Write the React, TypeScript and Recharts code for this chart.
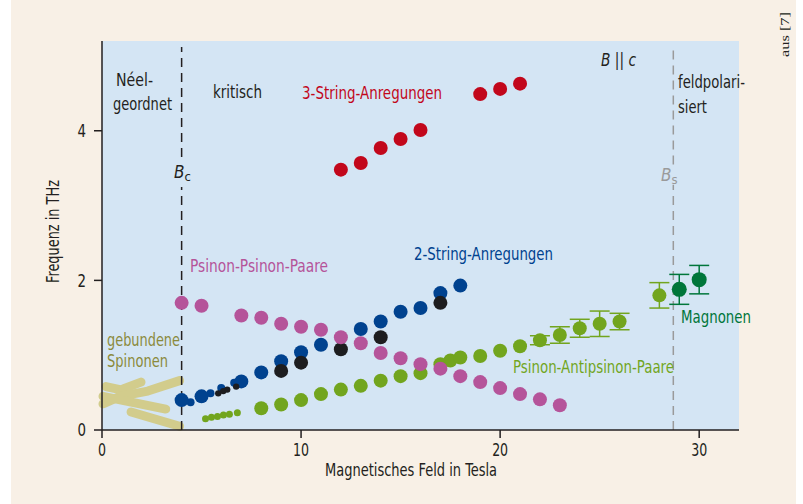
import React from 'react'
import {
  ComposedChart, Scatter, Line, XAxis, YAxis, CartesianGrid,
  ReferenceLine, ErrorBar,
} from 'recharts'

// field in tesla (x) and frequency in THz (y) per series
const THREE_STRING_B = [12, 13, 14, 15, 16, 19, 20, 21]
const THREE_STRING_F = [3.48, 3.57, 3.77, 3.89, 4.01, 4.49, 4.56, 4.63]

const TWO_STRING_B = [4, 5, 7, 8, 9, 10, 11, 13, 14, 15, 16, 17, 18]
const TWO_STRING_F = [0.4, 0.45, 0.65, 0.77, 0.92, 1.04, 1.14, 1.35, 1.45, 1.58, 1.63, 1.83, 1.93]
const TWO_STRING_SMALL_B = [4.45, 5.45, 5.99, 6.64]
const TWO_STRING_SMALL_F = [0.37, 0.49, 0.56, 0.63]

const BLACK_B = [9, 10, 12, 14, 17]
const BLACK_F = [0.79, 0.9, 1.08, 1.24, 1.7]
const BLACK_SMALL_B = [5.84, 6.09, 6.29, 6.74]
const BLACK_SMALL_F = [0.49, 0.52, 0.54, 0.58]

const PSINON_B = [4, 5, 7, 8, 9, 10, 11, 12, 13, 14, 15, 16, 17, 18, 19, 20, 21, 22, 23]
const PSINON_F = [1.7, 1.66, 1.53, 1.5, 1.42, 1.38, 1.34, 1.24, 1.16, 1.03, 0.96, 0.88, 0.82, 0.72, 0.64, 0.56, 0.48, 0.41, 0.33]

const ANTI_B = [8, 9, 10, 11, 12, 13, 14, 15, 16, 17, 17.5, 18, 19, 20, 21]
const ANTI_F = [0.29, 0.34, 0.4, 0.48, 0.54, 0.59, 0.66, 0.72, 0.76, 0.88, 0.93, 0.97, 0.99, 1.06, 1.12]
const ANTI_ERR_B = [22, 23, 24, 25, 26, 28]
const ANTI_ERR_F = [1.2, 1.27, 1.36, 1.42, 1.45, 1.8]
const ANTI_ERR = [0.06, 0.11, 0.12, 0.17, 0.11, 0.17]
const ANTI_SMALL_B = [5.2, 5.5, 5.8, 6.1, 6.4, 6.8]
const ANTI_SMALL_F = [0.15, 0.17, 0.18, 0.2, 0.21, 0.23]

const MAGNON_B = [29, 30]
const MAGNON_F = [1.88, 2.01]
const MAGNON_ERR = [0.2, 0.19]

// bound spinon bands (thick strokes)
const BAND1_B = [0.2, 0.9]
const BAND1_F = [0.58, 0.54]
const BAND2_B = [1.06, 1.96]
const BAND2_F = [0.55, 0.64]
const BAND3_B = [0.05, 0.9, 2.3, 3.9]
const BAND3_F = [0.35, 0.45, 0.52, 0.66]
const BAND4_B = [0.05, 3.2]
const BAND4_F = [0.45, 0.28]
const BAND5_B = [1.46, 3.9]
const BAND5_F = [0.24, 0.05]

const X_TICKS = [0, 10, 20, 30]
const Y_TICKS = [0, 2, 4]

const FONT = "'Liberation Sans Narrow', 'DejaVu Sans Condensed', sans-serif"
const INK = '#231f20'

const pts = (xs: number[], ys: number[], errs?: number[]) =>
  xs.map((x, i) => ({ x, y: ys[i], err: errs ? errs[i] : 0 }))

const dot = (fill: string, r: number) => (p: any) => (
  <circle cx={p.cx} cy={p.cy} r={r} fill={fill} />
)

const C = {
  red: '#c2071b',
  blue: '#00428f',
  black: '#1d1d1f',
  pink: '#b5549a',
  green: '#72a51e',
  dgreen: '#00763a',
  khaki: '#d2cc8c',
  olive: '#8b8a3c',
}

const bands = [
  pts(BAND1_B, BAND1_F), pts(BAND2_B, BAND2_F), pts(BAND3_B, BAND3_F),
  pts(BAND4_B, BAND4_F), pts(BAND5_B, BAND5_F),
]

const XTick = (p: any) => {
  const s = String(p.payload.value)
  return (
    <text x={p.x} y={p.y} dy="0.71em" textAnchor="middle" fill={INK} fontSize={17} fontFamily={FONT}
      textLength={s.length * 8} lengthAdjust="spacingAndGlyphs">{s}</text>
  )
}

const YTick = (p: any) => {
  const s = String(p.payload.value)
  return (
    <text x={p.x} y={p.y} dy="0.36em" textAnchor="end" fill={INK} fontSize={18} fontFamily={FONT}
      textLength={s.length * 8.5} lengthAdjust="spacingAndGlyphs">{s}</text>
  )
}

const Label = ({ x, y, w, fill = INK, children, ...rest }: any) => (
  <text x={x} y={y} fill={fill} textLength={w} lengthAdjust="spacingAndGlyphs" {...rest}>{children}</text>
)

export default function App() {
  return (
    <div style={{ position: 'fixed', left: 0, top: 0, width: 803, height: 504, background: '#fff' }}>
      <div style={{ position: 'absolute', left: 11, top: 0, width: 785, height: 504, background: '#f8f0e6' }} />
      <div style={{ position: 'absolute', left: 0, top: 0 }}>
        <ComposedChart width={803} height={504} margin={{ top: 41, right: 64, bottom: 44, left: 42 }}>
          <CartesianGrid horizontal={false} vertical={false} fill="#d4e5f4" />
          <XAxis
            type="number" dataKey="x" domain={[0, 32]} ticks={X_TICKS} height={30}
            tick={<XTick />} tickSize={8} tickMargin={6}
            axisLine={{ stroke: INK, strokeWidth: 1.5 }} tickLine={{ stroke: INK, strokeWidth: 1.5 }}
          />
          <YAxis
            type="number" dataKey="y" domain={[0, 5.2]} ticks={Y_TICKS} width={60}
            tick={<YTick />} tickSize={8} tickMargin={8}
            axisLine={{ stroke: INK, strokeWidth: 1.5 }} tickLine={{ stroke: INK, strokeWidth: 1.5 }}
          />
          {bands.map((b, i) => (
            <Line key={i} data={b} dataKey="y" stroke={C.khaki} strokeWidth={9} strokeLinecap="round"
              strokeLinejoin="round" dot={false} activeDot={false} isAnimationActive={false} />
          ))}
          <ReferenceLine segment={[{ x: 4, y: 0 }, { x: 4, y: 3.25 }]} stroke={INK} strokeWidth={1.5} strokeDasharray="9 6" />
          <ReferenceLine segment={[{ x: 4, y: 3.65 }, { x: 4, y: 5.12 }]} stroke={INK} strokeWidth={1.5} strokeDasharray="9 6" />
          <ReferenceLine segment={[{ x: 28.7, y: 0 }, { x: 28.7, y: 3.28 }]} stroke="#9a9a9a" strokeWidth={1.5} strokeDasharray="9 6" />
          <ReferenceLine segment={[{ x: 28.7, y: 3.55 }, { x: 28.7, y: 5.08 }]} stroke="#9a9a9a" strokeWidth={1.5} strokeDasharray="9 6" />
          <Scatter data={pts(ANTI_SMALL_B, ANTI_SMALL_F)} shape={dot(C.green, 3.5)} isAnimationActive={false} />
          <Scatter data={pts(ANTI_B, ANTI_F)} shape={dot(C.green, 7)} isAnimationActive={false} />
          <Scatter data={pts(ANTI_ERR_B, ANTI_ERR_F, ANTI_ERR)} shape={dot(C.green, 7)} isAnimationActive={false}>
            <ErrorBar dataKey="err" direction="y" width={10} stroke={C.green} strokeWidth={1.5} />
          </Scatter>
          <Scatter data={pts(TWO_STRING_SMALL_B, TWO_STRING_SMALL_F)} shape={dot(C.blue, 4)} isAnimationActive={false} />
          <Scatter data={pts(TWO_STRING_B, TWO_STRING_F)} shape={dot(C.blue, 7)} isAnimationActive={false} />
          <Scatter data={pts(BLACK_SMALL_B, BLACK_SMALL_F)} shape={dot(C.black, 3.2)} isAnimationActive={false} />
          <Scatter data={pts(BLACK_B, BLACK_F)} shape={dot(C.black, 7)} isAnimationActive={false} />
          <Scatter data={pts(PSINON_B, PSINON_F)} shape={dot(C.pink, 7)} isAnimationActive={false} />
          <Scatter data={pts(THREE_STRING_B, THREE_STRING_F)} shape={dot(C.red, 7)} isAnimationActive={false} />
          <Scatter data={pts(MAGNON_B, MAGNON_F, MAGNON_ERR)} shape={dot(C.dgreen, 7.5)} isAnimationActive={false}>
            <ErrorBar dataKey="err" direction="y" width={10} stroke={C.dgreen} strokeWidth={1.5} />
          </Scatter>
        </ComposedChart>
      </div>
      <svg width={803} height={504} style={{ position: 'absolute', left: 0, top: 0, pointerEvents: 'none' }}
        fontFamily={FONT} fontSize={17}>
        <Label x={116} y={86} w={37}>Néel-</Label>
        <Label x={113} y={110} w={59}>geordnet</Label>
        <Label x={213} y={98} w={49}>kritisch</Label>
        <Label x={302} y={99} w={140} fill={C.red}>3-String-Anregungen</Label>
        <Label x={601} y={66} w={35} fontStyle="italic">B || c</Label>
        <Label x={678} y={88} w={67}>feldpolari-</Label>
        <Label x={678} y={113} w={29}>siert</Label>
        <text x={174} y={178} fill={INK} fontStyle="italic">B<tspan fontSize={13} fontStyle="normal" dy={3}>c</tspan></text>
        <text x={661} y={181} fill="#9a9a9a" fontStyle="italic">B<tspan fontSize={13} fontStyle="normal" dy={3}>s</tspan></text>
        <Label x={190} y={272} w={138} fill={C.pink}>Psinon-Psinon-Paare</Label>
        <Label x={414} y={260} w={139} fill={C.blue}>2-String-Anregungen</Label>
        <Label x={107} y={346} w={73} fill={C.olive}>gebundene</Label>
        <Label x={107} y={367} w={61} fill={C.olive}>Spinonen</Label>
        <Label x={681} y={323} w={70} fill={C.dgreen}>Magnonen</Label>
        <Label x={513} y={373} w={161} fill={C.green}>Psinon-Antipsinon-Paare</Label>
        <Label x={325} y={476} w={172}>Magnetisches Feld in Tesla</Label>
        <g transform="translate(59,283) rotate(-90)">
          <Label x={0} y={0} w={103}>Frequenz in THz</Label>
        </g>
        <g transform="translate(789,57) rotate(-90)">
          <Label x={0} y={0} w={45} fontSize={13} fontFamily="'Liberation Serif', 'DejaVu Serif', serif">aus [7]</Label>
        </g>
      </svg>
    </div>
  )
}
